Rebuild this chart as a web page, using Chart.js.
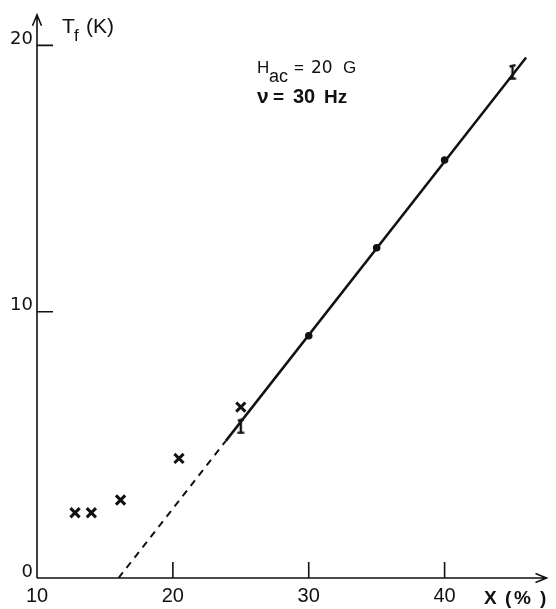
<!DOCTYPE html>
<html><head><meta charset="utf-8">
<script src="https://cdn.jsdelivr.net/npm/chart.js@4/dist/chart.umd.min.js"></script>
<style>html,body{margin:0;padding:0;background:#fff}canvas{display:block}</style>
</head><body>
<canvas id="c" width="556" height="609"></canvas>
<script>
// Freezing temperature T_f versus concentration X
const xTicks = [10, 20, 30, 40];
const yTicks = [0, 10, 20];
const crossX = [12.8, 14.0, 16.15, 20.45, 25.0];
const crossY = [2.45, 2.45, 2.93, 4.49, 6.42];
const dotX = [30, 35, 40];
const dotY = [9.1, 12.4, 15.7];
const barX = [25, 45];
const barY = [5.7, 19.0];
const fitSolidX = [23.9, 46.0];
const fitSolidY = [5.15, 19.55];
const fitDashX = [16.0, 23.9];
const fitDashY = [0, 5.15];

const INK = '#111';
const FONT = "'Liberation Sans', Arial, sans-serif";
const NUMFONT = "'DejaVu Sans', 'Liberation Sans', sans-serif";
const pts = (xs, ys) => xs.map((x, i) => ({x: x, y: ys[i]}));

// "I" shaped error-bar glyph
function barGlyph() {
  const c = document.createElement('canvas');
  c.width = 10; c.height = 16;
  const g = c.getContext('2d');
  g.strokeStyle = INK; g.lineWidth = 2.4; g.lineCap = 'butt';
  g.beginPath();
  g.moveTo(5, 1); g.lineTo(5, 15);
  g.moveTo(2, 2.5); g.lineTo(8, 1.2);
  g.moveTo(1.5, 14.6); g.lineTo(8.5, 14.6);
  g.stroke();
  return c;
}

function txt(ctx, s, font, x, yb) {
  ctx.font = font;
  ctx.fillText(s, x, yb);
}

const axesPlugin = {
  id: 'axesArrows',
  afterDraw(chart) {
    const {ctx, chartArea: a, scales: {x, y}} = chart;
    const x0 = x.getPixelForValue(x.min), y0 = y.getPixelForValue(0);
    ctx.save();
    ctx.strokeStyle = INK; ctx.fillStyle = INK; ctx.lineWidth = 1.6;
    ctx.beginPath();
    // y axis with arrow
    ctx.moveTo(x0, y0); ctx.lineTo(x0, a.top);
    ctx.moveTo(x0 - 4.5, a.top + 11); ctx.lineTo(x0, a.top); ctx.lineTo(x0 + 4.5, a.top + 11);
    // x axis with arrow
    ctx.moveTo(x0, y0); ctx.lineTo(a.right, y0);
    ctx.moveTo(a.right - 11, y0 - 4.5); ctx.lineTo(a.right, y0); ctx.lineTo(a.right - 11, y0 + 4.5);
    // inward ticks
    yTicks.filter(v => v !== 0).forEach(v => {
      const p = y.getPixelForValue(v);
      ctx.moveTo(x0, p); ctx.lineTo(x0 + 16, p);
    });
    xTicks.filter(v => v !== x.min).forEach(v => {
      const p = x.getPixelForValue(v);
      ctx.moveTo(p, y0); ctx.lineTo(p, y0 - 16);
    });
    ctx.stroke();

    // axis titles and conditions
    ctx.textAlign = 'left'; ctx.textBaseline = 'alphabetic';
    txt(ctx, 'T', '21px ' + FONT, 62, 33);
    txt(ctx, 'f', '17px ' + FONT, 74, 41);
    txt(ctx, '(K)', '21px ' + FONT, 86, 33);

    txt(ctx, 'H', '17px ' + FONT, 257, 73);
    txt(ctx, 'ac', '18px ' + FONT, 269, 82);
    txt(ctx, '=', '17px ' + FONT, 294, 73);
    txt(ctx, '20', '17px ' + NUMFONT, 311, 73);
    txt(ctx, 'G', '17px ' + FONT, 343, 73);

    txt(ctx, 'ν', 'bold 21px ' + FONT, 257, 103);
    txt(ctx, '=', 'bold 19px ' + FONT, 273, 103);
    txt(ctx, '30', 'bold 20px ' + FONT, 293, 103);
    txt(ctx, 'Hz', 'bold 19px ' + FONT, 324, 103);

    txt(ctx, 'X', 'bold 19px ' + FONT, 484, 604);
    txt(ctx, '(', 'bold 19px ' + FONT, 505, 604);
    txt(ctx, '%', 'bold 19px ' + FONT, 514, 604);
    txt(ctx, ')', 'bold 19px ' + FONT, 540, 604);
    ctx.restore();
  }
};

new Chart(document.getElementById('c'), {
  type: 'scatter',
  data: {
    datasets: [
      {data: pts(fitDashX, fitDashY), showLine: true, borderColor: INK, borderWidth: 2,
       borderDash: [7, 6], pointRadius: 0},
      {data: pts(fitSolidX, fitSolidY), showLine: true, borderColor: INK, borderWidth: 2.5,
       pointRadius: 0},
      {data: pts(crossX, crossY), pointStyle: 'crossRot', pointRadius: 6.5,
       borderColor: INK, pointBorderWidth: 3, backgroundColor: INK},
      {data: pts(dotX, dotY), pointStyle: 'circle', pointRadius: 3.8,
       backgroundColor: INK, borderColor: INK, pointBorderWidth: 0},
      {data: pts(barX, barY), pointStyle: barGlyph(), pointRadius: 8}
    ]
  },
  options: {
    responsive: false,
    animation: false,
    events: [],
    layout: {padding: {left: 0, right: 3, top: 8, bottom: 0}},
    plugins: {legend: {display: false}, tooltip: {enabled: false}},
    scales: {
      x: {
        type: 'linear', min: 10, max: 47.5,
        afterBuildTicks: s => { s.ticks = xTicks.map(v => ({value: v})); },
        afterFit: s => { s.height = 31; },
        grid: {display: false, drawTicks: false},
        border: {display: false},
        ticks: {color: INK, font: {family: FONT, size: 20}, padding: 6, maxRotation: 0}
      },
      y: {
        type: 'linear', min: 0, max: 21.15,
        afterBuildTicks: s => { s.ticks = yTicks.map(v => ({value: v})); },
        afterFit: s => { s.width = 37; },
        grid: {display: false, drawTicks: false},
        border: {display: false},
        ticks: {color: INK, font: {family: NUMFONT, size: 18}, padding: 4, labelOffset: -6}
      }
    }
  },
  plugins: [axesPlugin]
});
</script>
</body></html>
